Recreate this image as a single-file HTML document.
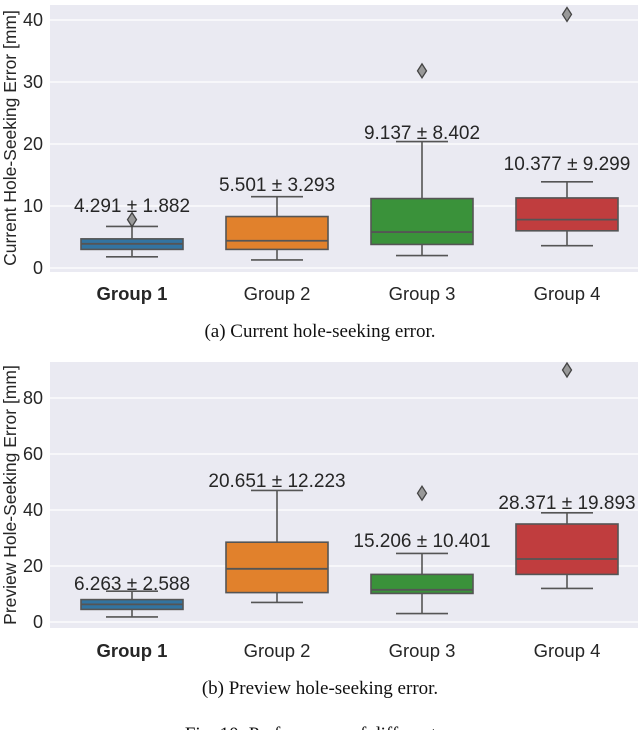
<!DOCTYPE html>
<html><head><meta charset="utf-8"><style>
body{margin:0;background:#fff;width:640px;height:730px;overflow:hidden}
svg{display:block}
</style></head><body>
<svg id="s" width="640" height="730" xmlns="http://www.w3.org/2000/svg" font-family="Liberation Sans, sans-serif"></svg>
<script>
const categories=["Group 1","Group 2","Group 3","Group 4"];
const colors=["#3274a1","#e1812c","#3a923a","#c03d3e"];
// chart A (current)
const aWhiskLo=[1.8,1.3,2.0,3.6];
const aQ1=[3.0,3.0,3.8,6.0];
const aMed=[3.9,4.4,5.8,7.8];
const aQ3=[4.7,8.3,11.2,11.3];
const aWhiskHi=[6.7,11.5,20.4,13.9];
const aOutliers=[[7.8],[],[31.8],[40.9]];
const aLabels=["4.291 ± 1.882","5.501 ± 3.293","9.137 ± 8.402","10.377 ± 9.299"];
const aLabelAt=[9.0,12.4,20.8,15.8];
const aTicks=[0,10,20,30,40];
// chart B (preview)
const bWhiskLo=[1.8,7,3,12];
const bQ1=[4.5,10.5,10.2,17];
const bMed=[6.3,19,11.5,22.5];
const bQ3=[8,28.5,17,35];
const bWhiskHi=[11,47,24.5,39];
const bOutliers=[[],[],[46],[90]];
const bLabels=["6.263 ± 2.588","20.651 ± 12.223","15.206 ± 10.401","28.371 ± 19.893"];
const bLabelAt=[11.4,48.2,26.8,40.4];
const bTicks=[0,20,40,60,80];

const svg=document.getElementById('s');
const NS="http://www.w3.org/2000/svg";
function mk(tag,attrs,parent){const e=document.createElementNS(NS,tag);for(const k in attrs)e.setAttribute(k,attrs[k]);(parent||svg).appendChild(e);return e;}

function chart(cfg){
  const g=mk('g',{});
  
  
  const y=v=>cfg.y0-(v-0)*cfg.pxPer;
  const x=i=>132+i*145;
  const bg=mk('rect',{x:50,y:cfg.top,width:588,height:cfg.bottom-cfg.top,fill:'#eaeaf2'},g);
  
  
  cfg.ticks.forEach(t=>{
    const l=mk('line',{x1:50,x2:638,y1:y(t),y2:y(t),stroke:'#fff','stroke-width':1.2},g);
    
    
    const tx=mk('text',{x:43,y:y(t)+6,'text-anchor':'end','font-size':18,fill:'#262626'},g);
    tx.textContent=t;
    
    
  });
  const yt=mk('text',{transform:`translate(16,${cfg.ytY}) rotate(-90)`,'text-anchor':'middle','font-size':17.5,fill:'#262626'},g);
  yt.textContent=cfg.ytitle;
  
  
  const c='#555';
  categories.forEach((cat,i)=>{
    const cx=x(i),hw=51;
    const bx=mk('g',{},g);
    
    
    mk('line',{x1:cx,x2:cx,y1:y(cfg.lo[i]),y2:y(cfg.q1[i]),stroke:c,'stroke-width':1.6},bx);
    mk('line',{x1:cx,x2:cx,y1:y(cfg.q3[i]),y2:y(cfg.hi[i]),stroke:c,'stroke-width':1.6},bx);
    mk('line',{x1:cx-26,x2:cx+26,y1:y(cfg.lo[i]),y2:y(cfg.lo[i]),stroke:c,'stroke-width':1.6},bx);
    mk('line',{x1:cx-26,x2:cx+26,y1:y(cfg.hi[i]),y2:y(cfg.hi[i]),stroke:c,'stroke-width':1.6},bx);
    mk('rect',{x:cx-hw,y:y(cfg.q3[i]),width:hw*2,height:y(cfg.q1[i])-y(cfg.q3[i]),fill:colors[i],stroke:c,'stroke-width':1.6},bx);
    mk('line',{x1:cx-hw,x2:cx+hw,y1:y(cfg.med[i]),y2:y(cfg.med[i]),stroke:c,'stroke-width':1.8},bx);
    cfg.out[i].forEach(o=>{
      const d=mk('path',{d:`M${cx},${y(o)-7}L${cx+4.5},${y(o)}L${cx},${y(o)+7}L${cx-4.5},${y(o)}Z`,fill:'#999',stroke:'#444','stroke-width':1.3},g);
      
      
    });
    const lb=mk('text',{x:cx,y:y(cfg.labelAt[i]),'text-anchor':'middle','font-size':19,fill:'#262626'},g);
    lb.textContent=cfg.labels[i];
    
    
    const ct=mk('text',{x:cx,y:cfg.catY,'text-anchor':'middle','font-size':18.5,fill:'#262626','font-weight':i===0?'bold':'normal'},g);
    ct.textContent=cat;
    
    
  });
  const cap=mk('text',{x:320,y:cfg.capY,'text-anchor':'middle','font-size':19,'font-family':'Liberation Serif, serif',fill:'#111'},g);
  cap.textContent=cfg.caption;
  
  
}
chart({name:'chart-current',top:5,bottom:272,y0:268,pxPer:6.2,ticks:aTicks,lo:aWhiskLo,q1:aQ1,med:aMed,q3:aQ3,hi:aWhiskHi,out:aOutliers,labels:aLabels,labelAt:aLabelAt,ytitle:'Current Hole-Seeking Error [mm]',ytY:138,catY:300,capY:337,caption:'(a)  Current hole-seeking error.'});
chart({name:'chart-preview',top:362,bottom:628,y0:622,pxPer:2.8,ticks:bTicks,lo:bWhiskLo,q1:bQ1,med:bMed,q3:bQ3,hi:bWhiskHi,out:bOutliers,labels:bLabels,labelAt:bLabelAt,ytitle:'Preview Hole-Seeking Error [mm]',ytY:495,catY:657,capY:694,caption:'(b)  Preview hole-seeking error.'});
const fc=mk('text',{x:320,y:740,'text-anchor':'middle','font-size':19,'font-family':'Liberation Serif, serif',fill:'#111'});
fc.textContent='Fig. 10:  Performance of different ...';


</script>
</body></html>
